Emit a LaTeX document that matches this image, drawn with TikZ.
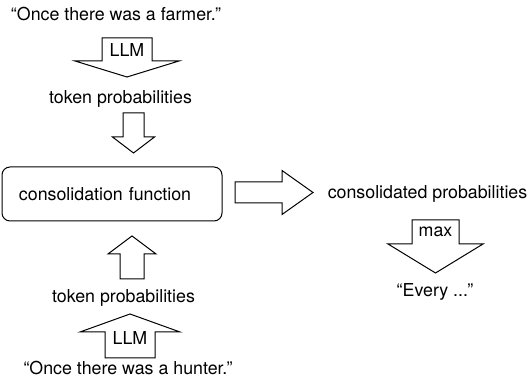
\documentclass[tikz,border=0pt]{standalone}
\usepackage{fontspec}
\setmainfont{TeX Gyre Heros}

% block arrow pointing down from the middle of its back edge:
% body half width / head half width / body length / total length
\tikzset{
  pics/fatarrow/.style args={#1/#2/#3/#4}{code={
    \draw[fat] (-#1,0) -- (#1,0) -- (#1,-#3) -- (#2,-#3) -- (0,-#4)
      -- (-#2,-#3) -- (-#1,-#3) -- cycle;
  }}
}

\begin{document}
\begin{tikzpicture}[x=1pt,y=1pt]
	\tikzstyle{txt}=[font=\fontsize{17.8}{21}\selectfont,inner sep=0,anchor=base]
	\tikzstyle{fat}=[draw,fill=white,line width=1pt,line join=miter]
	\tikzstyle{func}=[draw,rounded corners=8,line width=1pt,font=\fontsize{17.8}{21}\selectfont,
		text width=186pt,align=left,inner xsep=17pt,minimum height=54pt]
	\useasboundingbox (0,0) rectangle (530,385);
	
	% block arrows
	\pic (llm1) at (127,347) {fatarrow=25/52/23/39};
	\pic (in1) at (133.5,272) {fatarrow=10.5/21/24/40};
	\pic[rotate=180] (in2) at (132,106) {fatarrow=12/24/25/43};
	\pic[rotate=180] (llm2) at (130,27) {fatarrow=25/50/26/44};
	\pic[rotate=90] (out) at (235,192.5) {fatarrow=10.5/22/47/78};
	\pic (maxarr) at (435.5,165) {fatarrow=23.5/47.5/24/53};
	
	% texts
	\node [txt] (s1) at (116,364) {“Once there was a farmer."};
	\node [txt] (m1) at (127,328) {LLM};
	\node [txt] (p1) at (120.5,281) {token probabilities};
	\node [func] (cf) at (112,191) {consolidation function};
	\node [txt] (cp) at (427.5,186) {consolidated probabilities};
	\node [txt] (mx) at (435.5,148) {max};
	\node [txt] (ev) at (435,88) {“Every ..."};
	\node [txt] (p2) at (123.5,82) {token probabilities};
	\node [txt] (m2) at (130,40) {LLM};
	\node [txt] (s2) at (128,10) {“Once there was a hunter."};
\end{tikzpicture}
\end{document}
